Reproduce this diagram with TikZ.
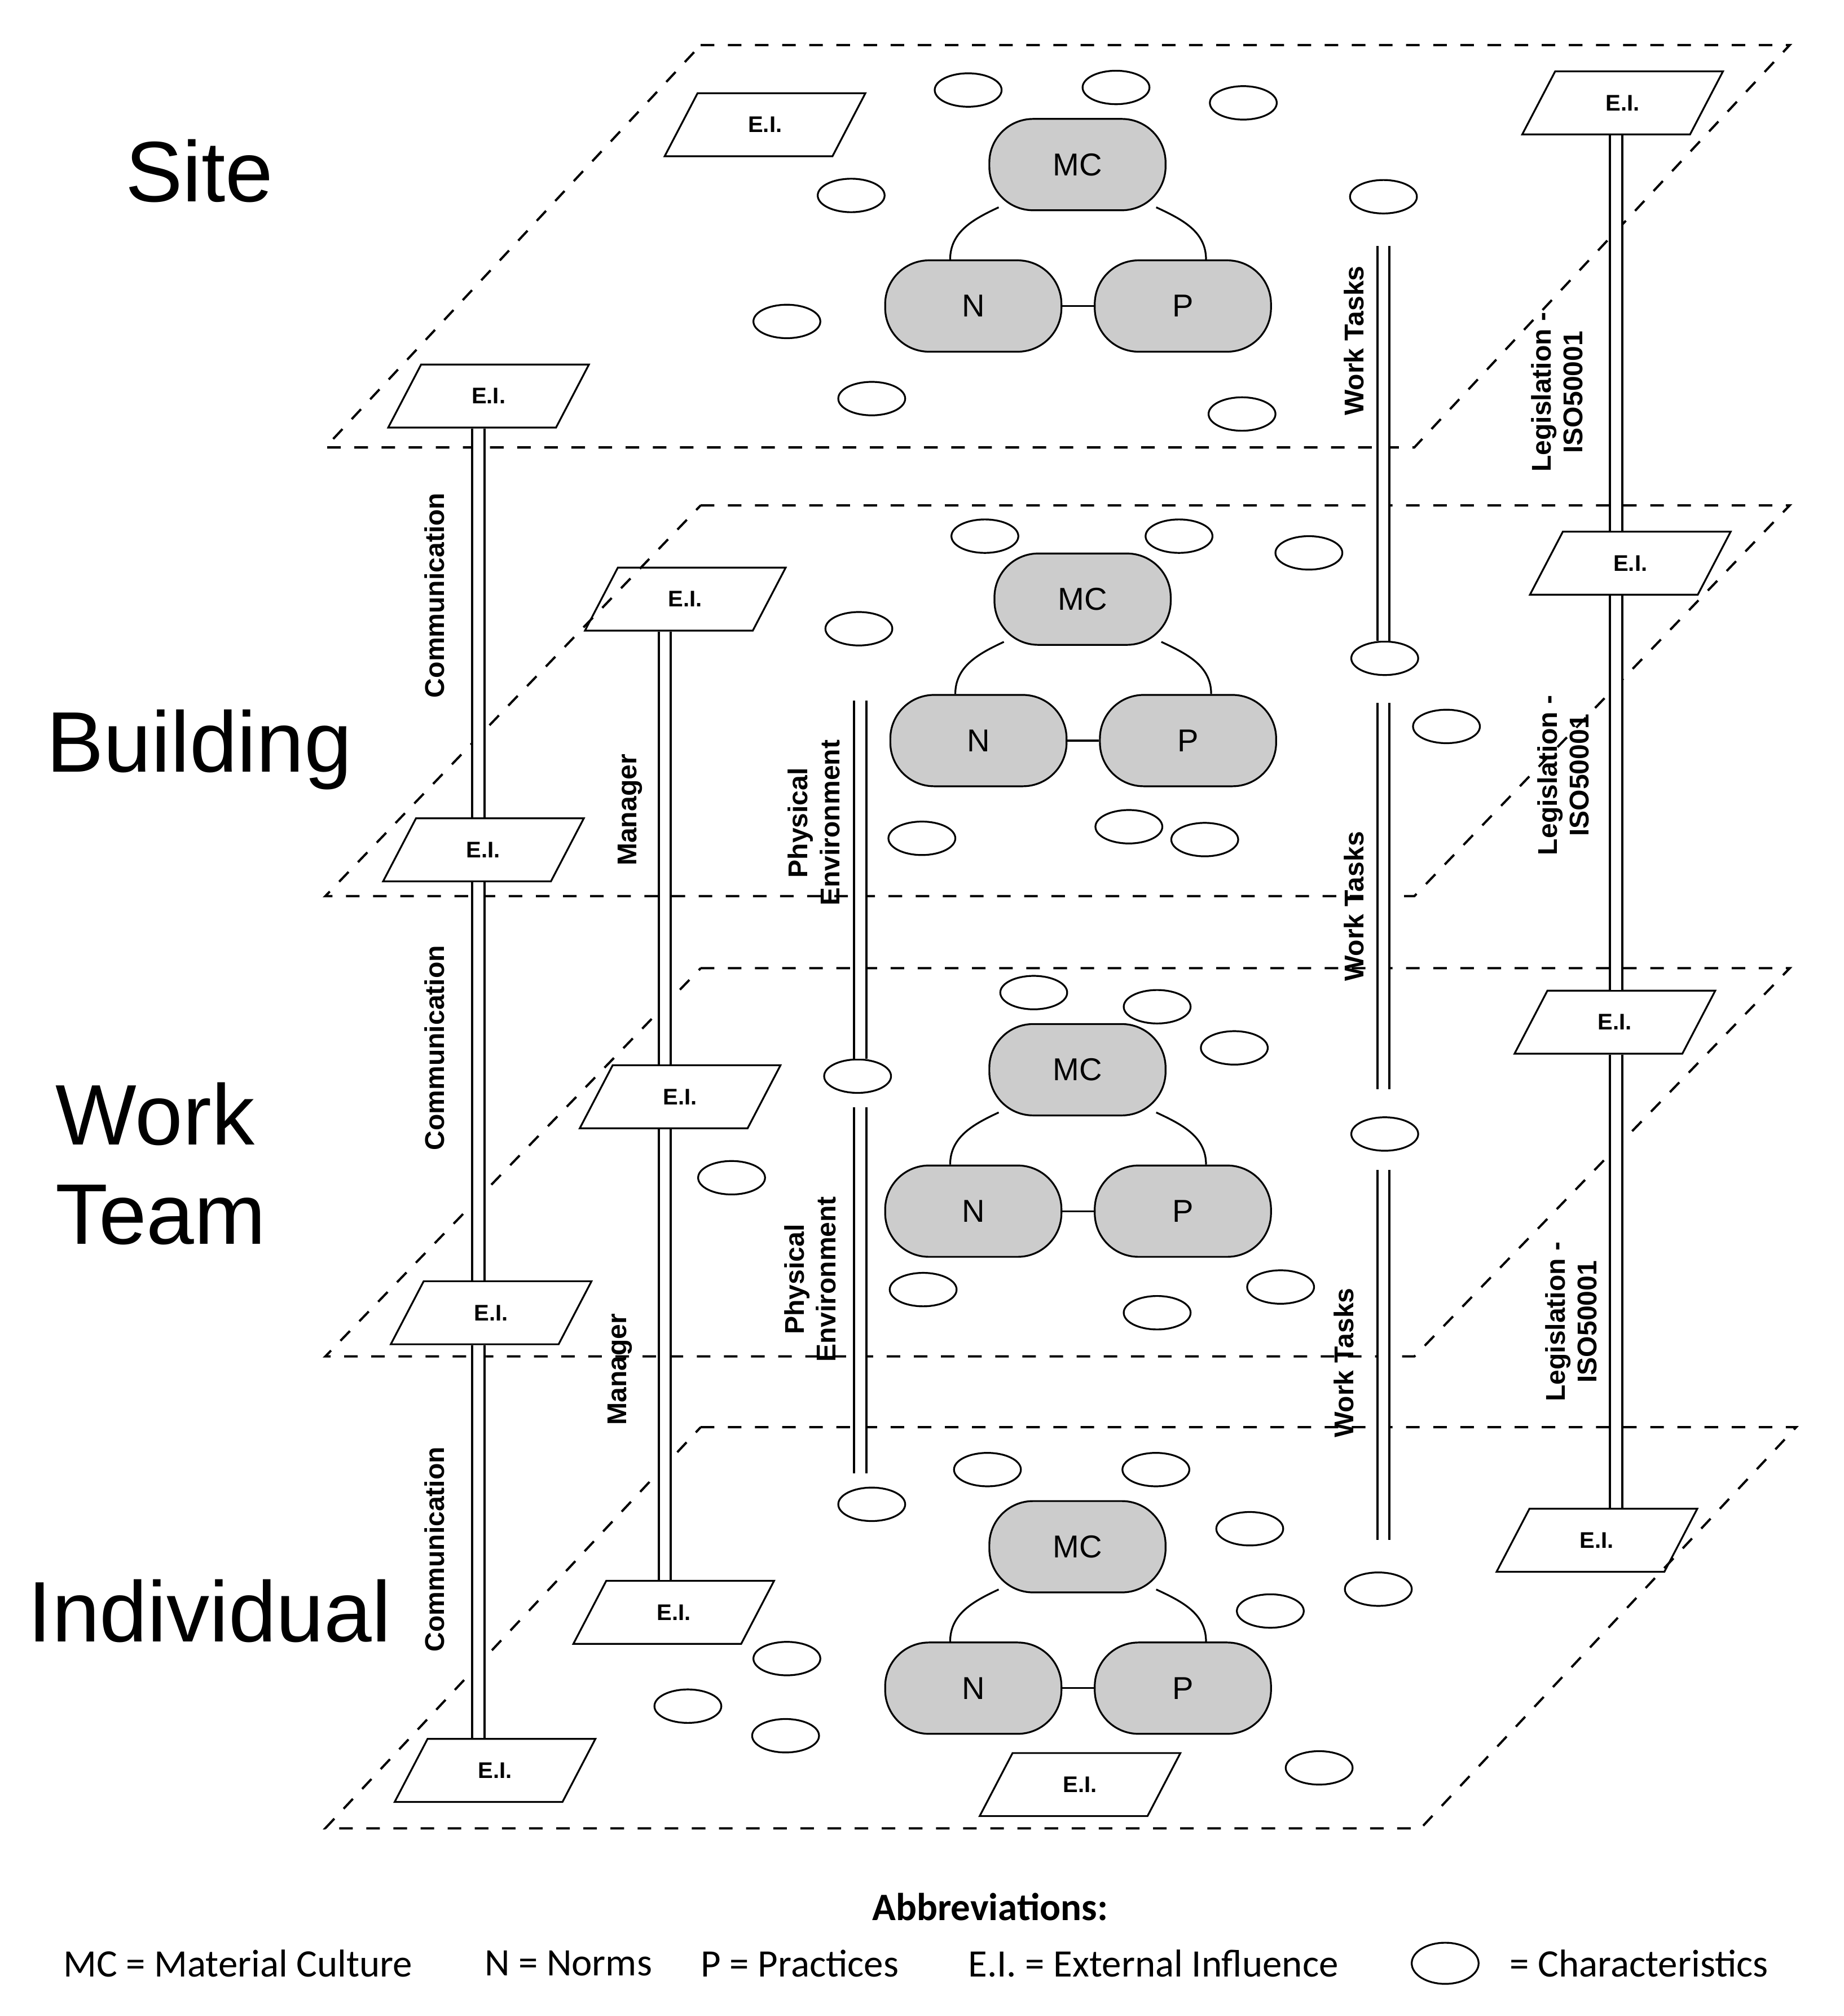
\documentclass[tikz,border=0pt]{standalone}
\usepackage{fontspec}
\setmainfont{Liberation Sans}
\newfontfamily\calib{Carlito}
\usetikzlibrary{shapes.geometric,calc}
\tikzset{
  plane/.style={dashed,line width=0.5pt},
  triad/.style={draw,rounded corners=0.34cm,fill=gray!40,minimum width=1.37cm,minimum height=0.71cm,font=\fontsize{7}{8}\selectfont},
  ei/.style={draw,trapezium,trapezium left angle=62,trapezium right angle=118,trapezium stretches=true,minimum width=1.56cm,minimum height=0.49cm,inner sep=0pt,font=\bfseries\fontsize{5}{6}\selectfont},
  ch/.style={draw,ellipse,minimum width=0.52cm,minimum height=0.26cm,inner sep=0pt},
  link/.style={double,double distance=2.2pt,line width=0.5pt},
  vlab/.style={rotate=90,font=\bfseries\fontsize{6}{7}\selectfont,align=center},
  level/.style={font=\fontsize{19}{22}\selectfont,align=left}
}
\newcommand{\triadat}[2]{%
  \node[triad] (#2mc) at (#1) {MC};
  \node[triad] (#2n) at ($(#1)+(-81,110)$) {N};
  \node[triad] (#2p) at ($(#1)+(82,110)$) {P};
  \draw (#2n) -- (#2p);
  \draw ($(#2mc.south west)+(8,-3)$) to[out=205,in=90] ($(#2n.north)+(-18,0)$);
  \draw ($(#2mc.south east)+(-8,-3)$) to[out=-25,in=90] ($(#2p.north)+(18,0)$);
}
\begin{document}
\begin{tikzpicture}[x=0.01cm,y=-0.01cm]
\useasboundingbox (0,0) rectangle (1434,1568);
% planes
\foreach \t/\b/\r in {35/348/0,393/697/0,753/1055/0,1110/1422/5}
  \draw[plane] (545,\t) -- (1392+\r,\t) -- (1100+\r,\b) -- (253,\b) -- cycle;
% triads
\triadat{838,128}{s}
\triadat{842,466}{b}
\triadat{838,832}{w}
\triadat{838,1203}{i}
% external influences
\foreach \n/\p in {s1/{595,97},s2/{1262,80},s3/{380,308},
                   b1/{533,466},b2/{1268,438},b3/{376,661},
                   w1/{529,853},w2/{1256,795},w3/{382,1021},
                   i1/{524,1254},i2/{1242,1198},i3/{385,1377},i4/{840,1388}}
  \node[ei] (ei\n) at (\p) {E.I.};
% characteristics
\foreach \n/\p in {s1/{753,70},s2/{868,68},s3/{967,80},s4/{662,152},s5/{1076,153},s6/{612,250},s7/{678,310},s8/{966,322},
                   b1/{766,417},b2/{917,417},b3/{1018,430},b4/{668,489},b5/{1077,512},b6/{1125,565},b7/{717,652},b8/{878,643},b9/{937,653},
                   w1/{804,772},w2/{900,783},w3/{960,815},w4/{667,837},w5/{1077,882},w6/{569,916},w7/{718,1003},w8/{996,1001},w9/{900,1021},
                   i1/{768,1143},i2/{899,1143},i3/{972,1189},i4/{678,1170},i5/{988,1253},i6/{1072,1236},i7/{612,1290},i8/{535,1327},i9/{611,1350},i10/{1026,1375}}
  \node[ch] (c\n) at (\p) {};
% link columns
\coordinate (comm) at (372,0);
\coordinate (mgr) at (517,0);
\coordinate (phys) at (669,0);
\coordinate (task) at (1076,0);
\coordinate (legis) at (1257,0);
% links
\draw[link] (eis3.south -| comm) -- (eib3.north -| comm);
\draw[link] (eib3.south -| comm) -- (eiw3.north -| comm);
\draw[link] (eiw3.south -| comm) -- (eii3.north -| comm);
\draw[link] (eib1.south -| mgr) -- (eiw1.north -| mgr);
\draw[link] (eiw1.south -| mgr) -- (eii1.north -| mgr);
\draw[link] (eis2.south -| legis) -- (eib2.north -| legis);
\draw[link] (eib2.south -| legis) -- (eiw2.north -| legis);
\draw[link] (eiw2.south -| legis) -- (eii2.north -| legis);
\draw[link,shorten <=12pt] (cb4.south -| phys) -- (cw4.north -| phys);
\draw[link,shorten <=3pt,shorten >=3pt] (cw4.south -| phys) -- (ci4.north -| phys);
\draw[link,shorten <=7pt] (cs5.south -| task) -- (cb5.north -| task);
\draw[link,shorten <=6pt,shorten >=6pt] (cb5.south -| task) -- (cw5.north -| task);
\draw[link,shorten <=4pt,shorten >=7pt] (cw5.south -| task) -- (ci6.north -| task);
% link labels
\foreach \y in {463,815,1205} \node[vlab] at (338,\y) {Communication};
\node[vlab] at (490,630) {Manager};
\node[vlab] at (482,1065) {Manager};
\node[vlab] at (633,640) {Physical\\Environment};
\node[vlab] at (630,995) {Physical\\Environment};
\node[vlab] at (1053,265) {Work Tasks};
\node[vlab] at (1053,705) {Work Tasks};
\node[vlab] at (1045,1060) {Work Tasks};
\node[vlab] at (1211,305) {Legislation -\\ISO50001};
\node[vlab] at (1216,603) {Legislation -\\ISO50001};
\node[vlab] at (1222,1028) {Legislation -\\ISO50001};
% levels
\node[level] at (155,133) {Site};
\node[level] at (155,583) {Building};
\node[level] at (125,905) {Work\\Team};
\node[level] at (163,1253) {Individual};
% legend
\node[font=\calib\bfseries\fontsize{8.6}{9}\selectfont] at (770,1483) {Abbreviations:};
\begin{scope}[font=\calib\fontsize{8.6}{9}\selectfont]
\node at (185,1527) {MC = Material Culture};
\node at (442,1527) {N = Norms};
\node at (622,1527) {P = Practices};
\node at (897,1527) {E.I. = External Influence};
\node[ch,minimum width=0.52cm,minimum height=0.32cm] (key) at (1124,1527) {};
\node[anchor=west] at (1162,1527) {= Characteristics};
\end{scope}
\end{tikzpicture}
\end{document}
